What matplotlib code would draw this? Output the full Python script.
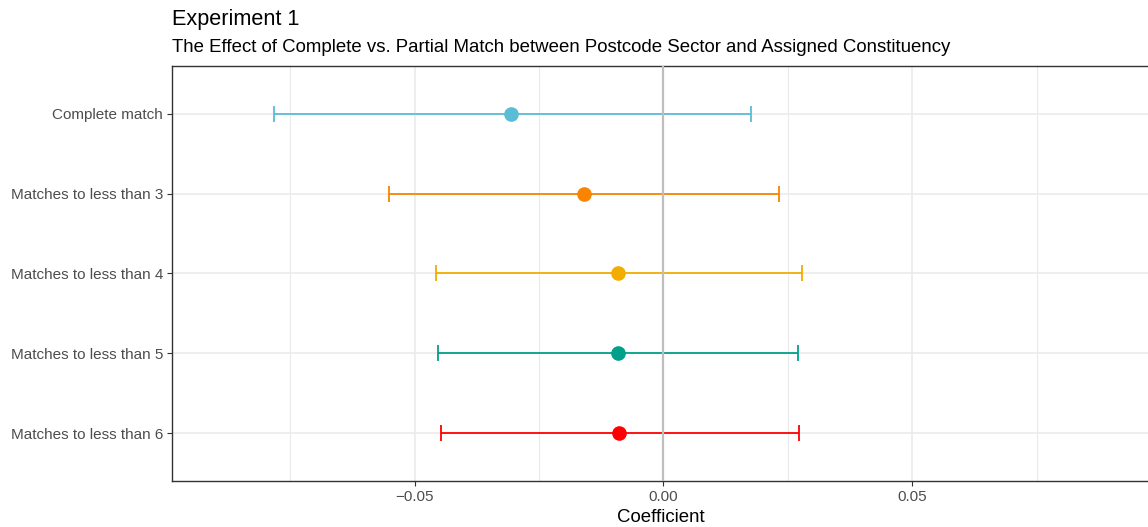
import matplotlib
matplotlib.use('Agg')
import matplotlib.pyplot as plt
from matplotlib.ticker import MultipleLocator

# estimates
labels = ['Complete match', 'Matches to less than 3', 'Matches to less than 4',
          'Matches to less than 5', 'Matches to less than 6']
coef = [-0.0306, -0.0159, -0.0091, -0.0091, -0.0089]
lower = [-0.0783, -0.0551, -0.0457, -0.0453, -0.0447]
upper = [0.0175, 0.0233, 0.0278, 0.0270, 0.0272]
colours = ['#5BBCD6', '#F98400', '#F2AD00', '#00A08A', '#FF0000']

plt.rcParams['font.family'] = ['Liberation Sans', 'DejaVu Sans']

fig = plt.figure(figsize=(11.48, 5.27), dpi=100)
W, H = 1148, 527
ax = fig.add_axes([172 / W, 1 - 481 / H, (1150 - 172) / W, (481 - 66) / H])

n = len(labels)
ypos = [n - i for i in range(n)]  # first label at the top

for i in range(n):
    ax.errorbar(coef[i], ypos[i],
                xerr=[[coef[i] - lower[i]], [upper[i] - coef[i]]],
                fmt='o', color=colours[i], ms=9.5, lw=1.3,
                capsize=5.5, capthick=1.3, zorder=3)

ax.axvline(0, color='#BEBEBE', lw=1.6, zorder=4)

ax.set_xlim(-0.0988, 0.0978)
ax.set_ylim(0.4, n + 0.6)
ax.xaxis.set_major_locator(MultipleLocator(0.05))
ax.xaxis.set_minor_locator(MultipleLocator(0.025))
ax.set_yticks(ypos)
ax.set_yticklabels(labels)
ax.set_xticks([-0.05, 0, 0.05])
ax.set_xticklabels(['\u22120.05', '0.00', '0.05'])

ax.grid(True, which='major', color='#EBEBEB', lw=1.2, zorder=0)
ax.grid(True, which='minor', axis='x', color='#EBEBEB', lw=0.8, zorder=0)
ax.set_axisbelow(True)
for s in ax.spines.values():
    s.set_color('#333333')
    s.set_linewidth(1.0)
ax.tick_params(which='major', length=3.5, width=0.8, color='#333333',
               labelcolor='#4D4D4D', labelsize=11.0, pad=3)
ax.tick_params(which='minor', length=0)

ax.set_xlabel('Coefficient', fontsize=13.4, color='black', labelpad=3.5)

fig.text(172 / W, 1 - 19 / H, 'Experiment 1', fontsize=15.6, va='center', ha='left')
fig.text(172 / W, 1 - 47 / H,
         'The Effect of Complete vs. Partial Match between Postcode Sector and Assigned Constituency',
         fontsize=13.4, va='center', ha='left')

fig.savefig('out.png', dpi=100)
